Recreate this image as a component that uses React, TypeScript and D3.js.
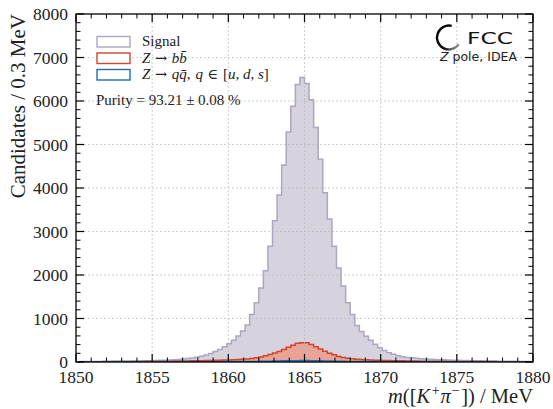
import React from 'react';
import * as d3 from 'd3';

// ---- data (bins of 0.3 MeV from 1850 to 1880) ----
const binLow = 1850;
const binWidth = 0.3;
const nBins = 100;

// Z -> q qbar (u,d,s), bottom of stack
const zqq = [
  2, 2, 2, 2, 2, 2, 2, 3, 3, 3,
  3, 3, 3, 3, 4, 4, 4, 4, 4, 5,
  5, 5, 5, 6, 6, 6, 6, 7, 7, 7,
  8, 8, 9, 9, 10, 10, 11, 12, 13, 14,
  16, 18, 20, 22, 24, 26, 28, 30, 31, 32,
  32, 31, 29, 27, 25, 22, 20, 18, 16, 14,
  13, 12, 11, 10, 9, 9, 8, 8, 7, 7,
  6, 6, 6, 5, 5, 5, 5, 4, 4, 4,
  4, 4, 3, 3, 3, 3, 3, 3, 3, 2,
  2, 2, 2, 2, 2, 2, 2, 2, 2, 2,
];

// Z -> b bbar
const zbb = [
  4, 4, 5, 5, 6, 6, 7, 6, 7, 7,
  8, 9, 9, 10, 10, 11, 12, 13, 14, 14,
  15, 16, 17, 18, 19, 21, 23, 24, 26, 28,
  30, 33, 35, 39, 42, 47, 52, 59, 68, 81,
  99, 124, 155, 183, 218, 262, 309, 356, 399, 413,
  408, 374, 321, 273, 223, 182, 145, 110, 87, 72,
  60, 52, 46, 41, 37, 33, 30, 27, 25, 23,
  22, 20, 18, 18, 17, 15, 14, 14, 13, 12,
  11, 10, 11, 10, 9, 9, 8, 8, 7, 8,
  7, 7, 6, 6, 6, 5, 5, 5, 4, 4,
];

// Signal (top of stack)
const signal = [
  2, 3, 2, 3, 3, 4, 4, 5, 5, 7,
  7, 8, 10, 11, 12, 13, 15, 17, 20, 23,
  27, 32, 38, 45, 55, 67, 83, 104, 130, 163,
  202, 249, 306, 372, 448, 543, 652, 779, 1009, 1265,
  1585, 1958, 2485, 3045, 3598, 4242, 4953, 5494, 5950, 6095,
  5960, 5625, 5040, 4360, 3642, 3086, 2495, 2032, 1647, 1274,
  1017, 776, 643, 539, 454, 368, 292, 227, 183, 146,
  118, 97, 82, 72, 62, 56, 50, 45, 41, 37,
  34, 31, 27, 25, 23, 20, 19, 17, 16, 14,
  13, 12, 11, 10, 9, 9, 8, 7, 7, 6,
];

const xTicks = [1850, 1855, 1860, 1865, 1870, 1875, 1880];
const yTicks = [0, 1000, 2000, 3000, 4000, 5000, 6000, 7000, 8000];
const xDomain = [1850, 1880];
const yDomain = [0, 8000];

const colors = {
  signalFill: '#d6d2de',
  signalEdge: '#aea6bf',
  bbFill: '#e8a497',
  bbEdge: '#d4432c',
  qqFill: '#4f8fcb',
  qqEdge: '#1f6db5',
};

const serif = "'Liberation Serif', 'Times New Roman', serif";
const mathSym = "'DejaVu Serif', serif";
const sans = "'DejaVu Sans', sans-serif";

export default function App() {
  const L = 76, R = 533, T = 14, B = 362;
  const x = d3.scaleLinear().domain(xDomain).range([L, R]);
  const y = d3.scaleLinear().domain(yDomain).range([B, T]);

  const edges = d3.range(nBins + 1).map((i) => binLow + i * binWidth);
  const idx = d3.range(nBins + 1);
  const v = (arr: number[], i: number) => arr[Math.min(i, nBins - 1)];

  const zero = zqq.map(() => 0);
  const top0 = zqq;
  const top1 = zqq.map((d, i) => d + zbb[i]);
  const top2 = top1.map((d, i) => d + signal[i]);

  const mkArea = (lo: number[], hi: number[]) =>
    d3
      .area<number>()
      .curve(d3.curveStepAfter)
      .x((i) => x(edges[i]))
      .y0((i) => y(v(lo, i)))
      .y1((i) => y(v(hi, i)))(idx) as string;
  const mkLine = (hi: number[]) =>
    d3
      .line<number>()
      .curve(d3.curveStepAfter)
      .x((i) => x(edges[i]))
      .y((i) => y(v(hi, i)))(idx) as string;

  const xMinor = d3.range(1850, 1881, 1).filter((t) => t % 5 !== 0);
  const yMinor = d3.range(0, 8001, 200).filter((t) => t % 1000 !== 0);
  const majLen = 8, minLen = 4.5;

  // FCC ring
  const ring = d3
    .arc()
    .innerRadius(10.8)
    .outerRadius(13.2)
    .startAngle((125 * Math.PI) / 180)
    .endAngle((373 * Math.PI) / 180)({} as any) as string;

  const legendRows = [
    { edge: colors.signalEdge, y: 36.5 },
    { edge: colors.bbEdge, y: 53 },
    { edge: colors.qqEdge, y: 69.5 },
  ];

  return (
    <svg
      width={553}
      height={409}
      style={{ position: 'absolute', left: 0, top: 0, background: '#fff' }}
      fontFamily={serif}
    >
      <defs>
        <linearGradient id="ringGrad" x1="0.2" y1="0.2" x2="0.95" y2="0.95">
          <stop offset="0" stopColor="#000" />
          <stop offset="0.6" stopColor="#111" />
          <stop offset="1" stopColor="#bdbdbd" />
        </linearGradient>
        <clipPath id="plotClip">
          <rect x={L} y={T} width={R - L} height={B - T} />
        </clipPath>
      </defs>
      <rect x={0} y={0} width={553} height={409} fill="#fff" />

      {/* histograms */}
      <g clipPath="url(#plotClip)">
        <path d={mkArea(zero, top0)} fill={colors.qqFill} />
        <path d={mkArea(top0, top1)} fill={colors.bbFill} />
        <path d={mkArea(top1, top2)} fill={colors.signalFill} />
        <path d={mkLine(top2)} fill="none" stroke={colors.signalEdge} strokeWidth={1.5} />
        <path d={mkLine(top1)} fill="none" stroke={colors.bbEdge} strokeWidth={1.5} />
        <path d={mkLine(top0)} fill="none" stroke={colors.qqEdge} strokeWidth={1.5} />
      </g>

      {/* grid */}
      <g stroke="#b5b5b5" strokeWidth={0.8} strokeDasharray="2,2" opacity={0.8}>
        {xTicks.slice(1, -1).map((t) => (
          <line key={'gx' + t} x1={x(t)} x2={x(t)} y1={T} y2={B} />
        ))}
        {yTicks.slice(1, -1).map((t) => (
          <line key={'gy' + t} x1={L} x2={R} y1={y(t)} y2={y(t)} />
        ))}
      </g>

      {/* ticks */}
      <g stroke="#000">
        {xTicks.map((t) => (
          <g key={'xt' + t} strokeWidth={1.2}>
            <line x1={x(t)} x2={x(t)} y1={B} y2={B - majLen} />
            <line x1={x(t)} x2={x(t)} y1={T} y2={T + majLen} />
          </g>
        ))}
        {xMinor.map((t) => (
          <g key={'xm' + t} strokeWidth={1}>
            <line x1={x(t)} x2={x(t)} y1={B} y2={B - minLen} />
            <line x1={x(t)} x2={x(t)} y1={T} y2={T + minLen} />
          </g>
        ))}
        {yTicks.map((t) => (
          <g key={'yt' + t} strokeWidth={1.2}>
            <line x1={L} x2={L + majLen} y1={y(t)} y2={y(t)} />
            <line x1={R} x2={R - majLen} y1={y(t)} y2={y(t)} />
          </g>
        ))}
        {yMinor.map((t) => (
          <g key={'ym' + t} strokeWidth={1}>
            <line x1={L} x2={L + minLen} y1={y(t)} y2={y(t)} />
            <line x1={R} x2={R - minLen} y1={y(t)} y2={y(t)} />
          </g>
        ))}
      </g>
      <rect x={L} y={T} width={R - L} height={B - T} fill="none" stroke="#000" strokeWidth={1.3} />

      {/* tick labels */}
      <g fontSize={17.5} fill="#222">
        {xTicks.map((t) => (
          <text key={'xl' + t} x={x(t)} y={B + 20.5} textAnchor="middle">
            {t}
          </text>
        ))}
        {yTicks.map((t) => (
          <text key={'yl' + t} x={L - 8} y={y(t) + 6} textAnchor="end">
            {t}
          </text>
        ))}
      </g>

      {/* axis labels */}
      <text x={R} y={403} textAnchor="end" fontSize={20.5} fill="#222">
        <tspan fontStyle="italic">m</tspan>
        <tspan>([</tspan>
        <tspan fontStyle="italic">K</tspan>
        <tspan fontSize={14} dx={1.5} dy={-8}>+</tspan>
        <tspan fontStyle="italic" dx={1} dy={8}>π</tspan>
        <tspan fontSize={14} dx={1} dy={-8}>−</tspan>
        <tspan dx={1.5} dy={8}>]) / MeV</tspan>
      </text>
      <text
        transform="translate(25,14) rotate(-90)"
        textAnchor="end"
        fontSize={21}
        fill="#222"
      >
        Candidates / 0.3 MeV
      </text>

      {/* legend */}
      {legendRows.map((r, i) => (
        <rect
          key={'lg' + i}
          x={97}
          y={r.y}
          width={33}
          height={10.5}
          fill="#fff"
          stroke={r.edge}
          strokeWidth={1.4}
        />
      ))}
      <g fontSize={15} fill="#222">
        <text x={142} y={46}>Signal</text>
        <text x={142} y={62.5}>
          <tspan fontStyle="italic">Z</tspan>
          <tspan fontFamily={mathSym} fontSize={14.5}> → </tspan>
          <tspan fontStyle="italic">{'b'}</tspan>
          <tspan fontStyle="italic">{'b\u0304'}</tspan>
        </text>
        <text x={142} y={79}>
          <tspan fontStyle="italic">Z</tspan>
          <tspan fontFamily={mathSym} fontSize={14.5}> → </tspan>
          <tspan fontStyle="italic">{'q'}</tspan>
          <tspan fontStyle="italic">{'q\u0304'}</tspan>
          <tspan>,</tspan>
          <tspan dx={5} fontStyle="italic">q</tspan>
          <tspan fontFamily={mathSym} fontSize={14.5}> ∈ </tspan>
          <tspan>[</tspan>
          <tspan fontStyle="italic">u</tspan>
          <tspan>, </tspan>
          <tspan fontStyle="italic">d</tspan>
          <tspan>, </tspan>
          <tspan fontStyle="italic">s</tspan>
          <tspan>]</tspan>
        </text>
        <text x={96} y={105}>Purity = 93.21 ± 0.08 %</text>
      </g>

      {/* FCC logo */}
      <g transform="translate(449,37.5)">
        <path d={ring} fill="url(#ringGrad)" />
      </g>
      <text x={467} y={43.5} fontFamily={sans} fontSize={16} textLength={46} lengthAdjust="spacingAndGlyphs" fill="#111">
        FCC
      </text>
      <text x={517} y={61} textAnchor="end" fontFamily={sans} fontSize={12.5} fill="#222">
        <tspan fontStyle="italic">Z</tspan>
        <tspan> pole, IDEA</tspan>
      </text>
    </svg>
  );
}
